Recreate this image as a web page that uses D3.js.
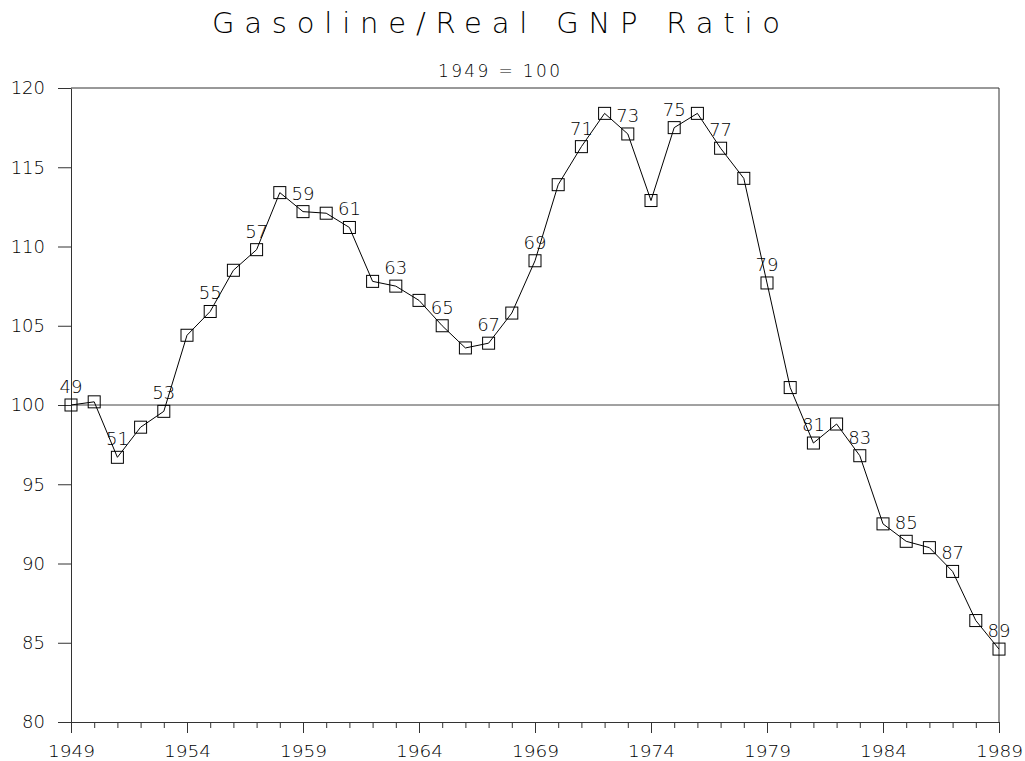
<!DOCTYPE html>
<html>
<head>
<meta charset="utf-8">
<script src="https://cdn.jsdelivr.net/npm/d3@7"></script>
<style>
  html, body { margin: 0; padding: 0; background: #fff; }
  svg text { font-family: "DejaVu Sans", "Liberation Sans", sans-serif; font-weight: 200; fill: #000; }
</style>
</head>
<body>
<svg id="chart" width="1025" height="761"></svg>
<script>
const years = d3.range(1949, 1990);
const ratio = [
  100.0, 100.2, 96.7, 98.6, 99.6, 104.4, 105.9, 108.5, 109.8, 113.4,
  112.2, 112.1, 111.2, 107.8, 107.5, 106.6, 105.0, 103.6, 103.9, 105.8,
  109.1, 113.9, 116.3, 118.4, 117.1, 112.9, 117.5, 118.4, 116.2, 114.3,
  107.7, 101.1, 97.6, 98.8, 96.8, 92.5, 91.4, 91.0, 89.5, 86.4,
  84.6
];
const labeledYears = [1949, 1951, 1953, 1955, 1957, 1959, 1961, 1963, 1965, 1967, 1969,
  1971, 1973, 1975, 1977, 1979, 1981, 1983, 1985, 1987, 1989];
const yTicks = [80, 85, 90, 95, 100, 105, 110, 115, 120];
const xMajorTicks = [1949, 1954, 1959, 1964, 1969, 1974, 1979, 1984, 1989];
const baseline = 100;
const title = "Gasoline/Real GNP Ratio";
const subtitle = "1949 = 100";

const svg = d3.select("#chart");
const L = 71, R = 999, T = 88, B = 722;
const x = d3.scaleLinear().domain([1949, 1989]).range([L, R]);
const y = d3.scaleLinear().domain([80, 120]).range([B, T]);
const axisColor = "#333";

// title
svg.append("text").attr("x", 212).attr("y", 33)
  .attr("font-size", 29).attr("textLength", 568).attr("lengthAdjust", "spacing")
  .text(title);
svg.append("text").attr("x", 499).attr("y", 77).attr("text-anchor", "middle")
  .attr("font-size", 17).attr("textLength", 122).attr("lengthAdjust", "spacing")
  .text(subtitle);

// frame top & right
svg.append("line").attr("x1", L).attr("x2", R).attr("y1", T).attr("y2", T).attr("stroke", axisColor);
svg.append("line").attr("x1", R).attr("x2", R).attr("y1", T).attr("y2", B).attr("stroke", axisColor);

// y axis
const yAxis = svg.append("g").attr("transform", `translate(${L},0)`)
  .call(d3.axisLeft(y).tickValues(yTicks).tickSize(13).tickPadding(13).tickSizeOuter(0));
yAxis.selectAll("text").attr("font-size", 18).attr("font-family", "DejaVu Sans").attr("font-weight", 200).attr("fill", "#000");

// x axis minor
svg.append("g").attr("transform", `translate(0,${B})`)
  .call(d3.axisBottom(x).tickValues(years).tickSize(6).tickFormat("").tickSizeOuter(0));
const xMajor = svg.append("g").attr("transform", `translate(0,${B})`)
  .call(d3.axisBottom(x).tickValues(xMajorTicks).tickSize(11).tickPadding(12).tickFormat(d3.format("d")).tickSizeOuter(0));
xMajor.selectAll("text").attr("font-size", 16).attr("font-family", "DejaVu Sans").attr("font-weight", 200).attr("fill", "#000")
  .attr("dy", null).attr("y", 35).attr("textLength", 47).attr("lengthAdjust", "spacingAndGlyphs");
svg.selectAll(".domain").attr("stroke", axisColor);
svg.selectAll(".tick line").attr("stroke", axisColor);

// baseline at 100
svg.append("line").attr("x1", L).attr("x2", R).attr("y1", y(baseline)).attr("y2", y(baseline))
  .attr("stroke", "#444");

// data line
const data = years.map((yr, i) => ({ yr, v: ratio[i] }));
svg.append("path").datum(data)
  .attr("fill", "none").attr("stroke", "#000").attr("stroke-width", 1)
  .attr("d", d3.line().x(d => x(d.yr)).y(d => y(d.v)));

// markers
const s = 12;
svg.append("g").selectAll("rect").data(data).join("rect")
  .attr("x", d => x(d.yr) - s / 2).attr("y", d => y(d.v) - s / 2)
  .attr("width", s).attr("height", s)
  .attr("fill", "none").attr("stroke", "#000").attr("stroke-width", 1);

// point labels
svg.append("g").selectAll("text").data(data.filter(d => labeledYears.includes(d.yr))).join("text")
  .attr("x", d => x(d.yr)).attr("y", d => y(d.v) - 12)
  .attr("text-anchor", "middle").attr("font-size", 18)
  .text(d => String(d.yr).slice(2));
</script>
</body>
</html>
